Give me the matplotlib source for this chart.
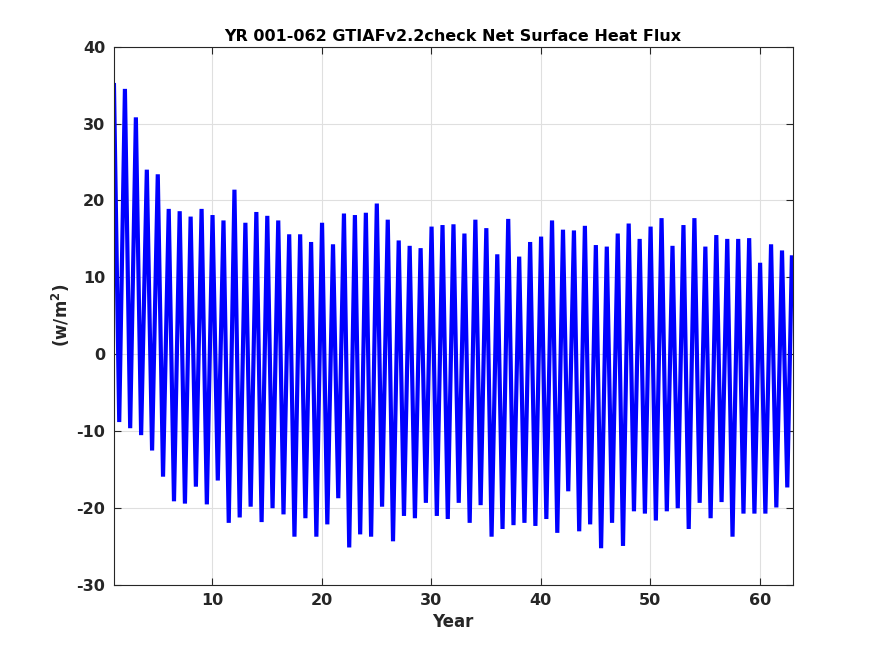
"""Net surface heat flux time series, MATLAB-style figure."""
import matplotlib
matplotlib.use("Agg")
import matplotlib.pyplot as plt

# Annual maximum (near Jan) and minimum (mid-year) of the monthly series,
# years 1..62 (W/m^2).
peak_vals = [35.0, 34.5, 30.8, 24.0, 23.4, 18.9, 18.6, 17.9, 18.9, 18.1,
             17.4, 21.4, 17.1, 18.5, 18.0, 17.4, 15.6, 15.6, 14.6, 17.1,
             14.3, 18.3, 18.1, 18.4, 19.6, 17.5, 14.8, 14.1, 13.8, 16.6,
             16.8, 16.9, 15.7, 17.5, 16.4, 13.0, 17.6, 12.7, 14.6, 15.3,
             17.4, 16.2, 16.1, 16.7, 14.2, 14.0, 15.7, 17.0, 15.0, 16.6,
             17.7, 14.1, 16.8, 17.7, 14.0, 15.5, 15.0, 15.0, 15.1, 11.9,
             14.3, 13.5]
trough_vals = [-8.8, -9.6, -10.5, -12.5, -15.9, -19.1, -19.4, -17.2, -19.5, -16.4,
               -21.9, -21.2, -19.8, -21.8, -20.0, -20.8, -23.7, -21.3, -23.7, -22.1,
               -18.7, -25.1, -23.4, -23.7, -19.8, -24.3, -21.0, -21.3, -19.3, -21.0,
               -21.4, -19.3, -21.9, -19.6, -23.7, -22.7, -22.2, -21.9, -22.3, -21.4,
               -23.2, -17.8, -23.0, -22.1, -25.2, -21.9, -24.9, -20.4, -20.7, -21.6,
               -20.4, -20.0, -22.7, -19.3, -21.3, -19.2, -23.7, -20.7, -20.7, -20.7,
               -19.9, -17.3]
last_val = 12.6          # final month (Dec of year 62)
years = list(range(1, 63))

_TXT = "#262626"
_GRID = "#dfdfdf"
_BLUE = "#0000ff"

plt.rcParams["font.family"] = "DejaVu Sans"
plt.rcParams["font.weight"] = "bold"
plt.rcParams["axes.unicode_minus"] = False   # MATLAB uses a plain hyphen

fig = plt.figure(figsize=(8.75, 6.56), dpi=100)
ax = fig.add_axes([0.13, 0.108, 0.776, 0.821])

xs, ys = [], []
for yr, hi, lo in zip(years, peak_vals, trough_vals):
    xs += [yr + 0.02, yr + 0.5]
    ys += [hi, lo]
xs.append(62.92)
ys.append(last_val)

ax.plot(xs, ys, color=_BLUE, linewidth=3.0, solid_joinstyle="miter")

ax.set_xlim(1, 63)
ax.set_ylim(-30, 40)
ax.set_xticks([10, 20, 30, 40, 50, 60])
ax.set_yticks(range(-30, 41, 10))
ax.grid(True, color=_GRID, linewidth=0.8)
ax.set_axisbelow(True)
for s in ax.spines.values():
    s.set_color(_TXT)
    s.set_linewidth(0.8)
ax.tick_params(direction="in", top=True, right=True, length=5, width=0.8,
               colors=_TXT, labelsize=11.5, pad=6)
for lab in ax.get_xticklabels() + ax.get_yticklabels():
    lab.set_fontweight("bold")

ax.set_title("YR 001-062 GTIAFv2.2check Net Surface Heat Flux",
             fontsize=11.5, fontweight="bold", color="black", pad=4)
ax.set_xlabel("Year", fontsize=12, fontweight="bold", color=_TXT, labelpad=3)
ax.set_ylabel("(w/m$^\\mathbf{2}$)", fontsize=12, fontweight="bold", color=_TXT,
              labelpad=3)

fig.savefig("out.png", facecolor="white")
